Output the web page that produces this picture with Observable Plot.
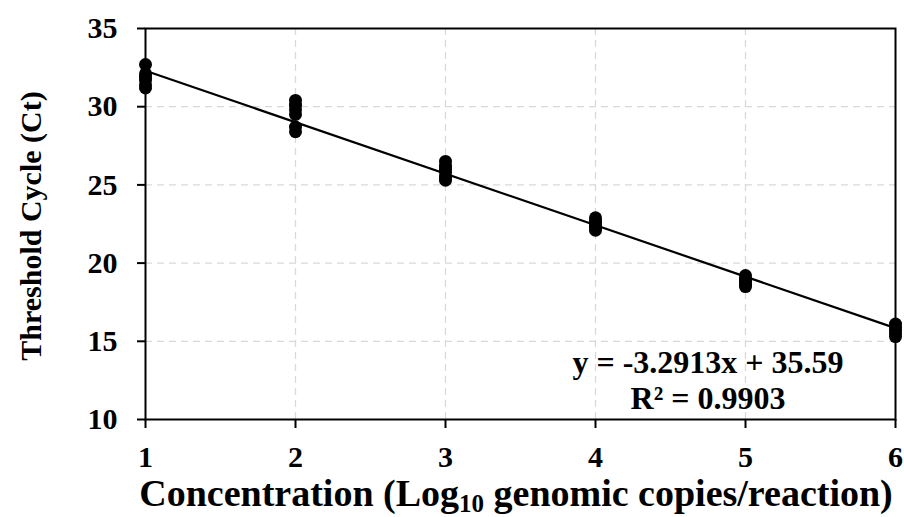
<!DOCTYPE html>
<html>
<head>
<meta charset="utf-8">
<script src="https://cdn.jsdelivr.net/npm/d3@7"></script>
<script src="https://cdn.jsdelivr.net/npm/@observablehq/plot@0.6"></script>
<style>
  html, body { margin: 0; padding: 0; background: #fff; }
  #chart { width: 904px; height: 517px; }
</style>
</head>
<body>
<div id="chart"></div>
<script>
// Concentration levels (log10 genomic copies/reaction)
const concentrations = [1, 2, 3, 4, 5, 6];
// Ct replicates, one list per concentration
const ct1 = [32.7, 32.1, 31.9, 31.7, 31.4, 31.2];
const ct2 = [30.4, 30.1, 29.8, 29.5, 28.7, 28.4];
const ct3 = [26.5, 26.2, 26.0, 25.8, 25.5, 25.3];
const ct4 = [22.9, 22.7, 22.6, 22.4, 22.3, 22.1];
const ct5 = [19.2, 19.0, 18.9, 18.8, 18.6, 18.5];
const ct6 = [16.1, 15.9, 15.7, 15.5, 15.3];
const ctSeries = [ct1, ct2, ct3, ct4, ct5, ct6];
// Linear fit stated on the chart
const slope = -3.2913;
const intercept = 35.59;
const rSquared = 0.9903;
const xTicks = [1, 2, 3, 4, 5, 6];
const yTicks = [10, 15, 20, 25, 30, 35];
const eqLines = ["y = -3.2913x + 35.59", "R² = 0.9903"];

const points = [];
concentrations.forEach((c, i) => ctSeries[i].forEach(v => points.push({x: c, y: v})));
const fitLine = [concentrations[0], concentrations[concentrations.length - 1]]
  .map(x => ({x, y: slope * x + intercept}));

const font = "'Liberation Serif', 'Times New Roman', serif";
const plot = Plot.plot({
  width: 904,
  height: 517,
  marginLeft: 145,
  marginRight: 9,
  marginTop: 28,
  marginBottom: 98,
  style: {fontFamily: font, fontSize: "30px", fontWeight: "bold", color: "#000", background: "#fff", overflow: "visible"},
  x: {domain: [1, 6], ticks: xTicks, label: null},
  y: {domain: [10, 35], ticks: yTicks, label: null},
  marks: [
    Plot.gridX(xTicks.slice(1, -1), {stroke: "#d9d9d9", strokeOpacity: 1, strokeWidth: 1.3, strokeDasharray: "7,5"}),
    Plot.gridY(yTicks.slice(1, -1), {stroke: "#d9d9d9", strokeOpacity: 1, strokeWidth: 1.3, strokeDasharray: "7,5"}),
    Plot.frame({stroke: "#000", strokeWidth: 2}),
    Plot.axisX(xTicks, {tickSize: 9, tickPadding: 17, strokeWidth: 2, fontSize: 30, fontWeight: "bold", fill: "#000", tickFormat: d => String(d)}),
    Plot.axisY(yTicks, {tickSize: 8, tickPadding: 20, strokeWidth: 2, fontSize: 30, fontWeight: "bold", fill: "#000", tickFormat: d => String(d)}),
    Plot.line(fitLine, {x: "x", y: "y", stroke: "#000", strokeWidth: 2.2}),
    Plot.dot(points, {x: "x", y: "y", r: 6.5, fill: "#000", stroke: "none"}),
    Plot.text([eqLines[0]], {x: 4.75, y: 13.6, text: d => d, fontSize: 32, fontWeight: "bold", fill: "#000"}),
    Plot.text([eqLines[1]], {x: 4.75, y: 11.35, text: d => d, fontSize: 32, fontWeight: "bold", fill: "#000"})
  ]
});
document.getElementById("chart").appendChild(plot);

// Axis titles (with subscript) appended to the same SVG
const svg = d3.select(plot);
const xl = svg.append("text")
  .attr("x", 516).attr("y", 506)
  .attr("text-anchor", "middle")
  .style("font-family", font).style("font-size", "38px").style("font-weight", "bold").style("fill", "#000");
xl.append("tspan").text("Concentration (Log");
xl.append("tspan").text("10").style("font-size", "25px").attr("dy", 6);
xl.append("tspan").text(" genomic copies/reaction)").attr("dy", -6);

svg.append("text")
  .attr("transform", "translate(41,226) rotate(-90)")
  .attr("text-anchor", "middle")
  .style("font-family", font).style("font-size", "30px").style("font-weight", "bold").style("fill", "#000")
  .text("Threshold Cycle (Ct)");
</script>
</body>
</html>
